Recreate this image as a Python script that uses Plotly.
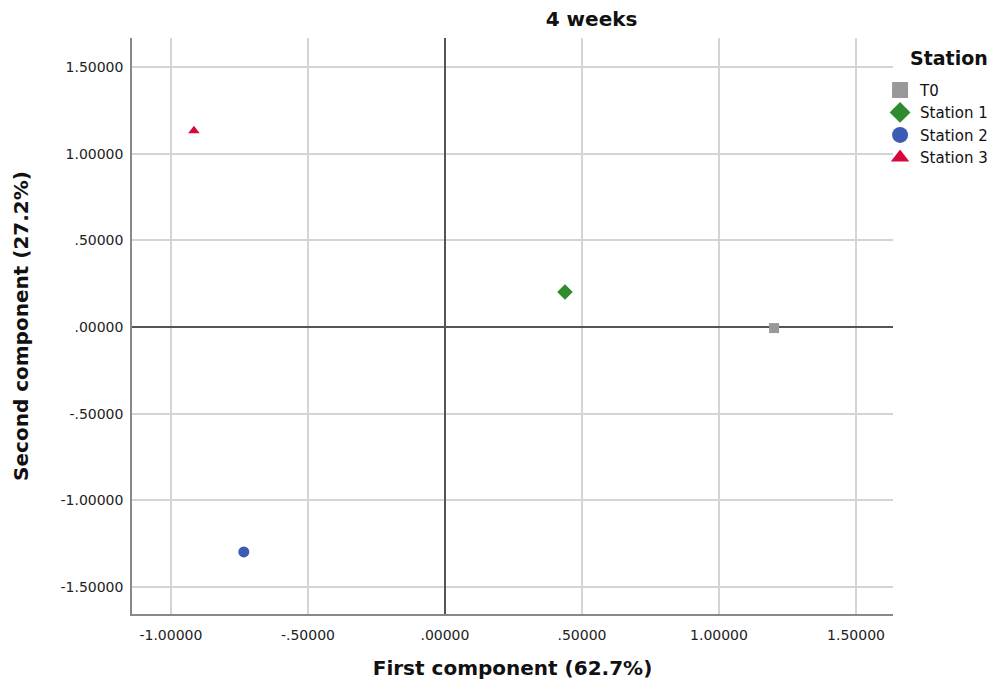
import plotly.graph_objects as go

stations = ["T0", "Station 1", "Station 2", "Station 3"]
pc1 = [1.201, 0.438, -0.734, -0.916]
pc2 = [-0.006, 0.202, -1.298, 1.133]
symbols = ["square", "diamond", "circle", "triangle-up"]
colors = ["#9a9898", "#2e8b2e", "#3b5bb5", "#d6083b"]
sizes = [10, 12, 11, 10]

tick_vals = [-1.5, -1.0, -0.5, 0.0, 0.5, 1.0, 1.5]
tick_text = ["-1.50000", "-1.00000", "-.50000", ".00000", ".50000", "1.00000", "1.50000"]

font = "DejaVu Sans"
fig = go.Figure()
for i, s in enumerate(stations):
    fig.add_trace(go.Scatter(
        x=[pc1[i]], y=[pc2[i]], mode="markers", showlegend=False,
        marker=dict(symbol=symbols[i], color=colors[i], size=sizes[i], line=dict(width=0)),
    ))
for i, s in enumerate(stations):
    fig.add_trace(go.Scatter(
        x=[None], y=[None], mode="markers", name=s,
        marker=dict(symbol=symbols[i], color=colors[i], size=18, line=dict(width=0)),
    ))

axis_common = dict(
    showgrid=True, gridcolor="#d4d4d4", gridwidth=1.5,
    zeroline=True, zerolinecolor="#555555", zerolinewidth=1.5,
    showline=True, linecolor="#888888", linewidth=1.5,
    tickfont=dict(family=font, size=14, color="#222222"),
    tickvals=tick_vals, ticktext=tick_text, ticks="",
)
fig.update_layout(
    width=1001, height=688,
    margin=dict(l=132, r=108, t=38, b=74, autoexpand=False),
    paper_bgcolor="white", plot_bgcolor="white",
    title=dict(text="<b>4 weeks</b>", x=0.591, xref="container", xanchor="center",
               y=1 - 19 / 688, yref="container", yanchor="middle",
               font=dict(family=font, size=20, color="#111111")),
    xaxis=dict(range=[-1.142, 1.635], ticklabelstandoff=7,
               title=dict(text="<b>First component (62.7%)</b>", standoff=19,
                          font=dict(family=font, size=20, color="#111111")),
               **axis_common),
    yaxis=dict(range=[-1.656, 1.668], ticklabelstandoff=4,
               title=dict(text="<b>Second component (27.2%)</b>", standoff=26,
                          font=dict(family=font, size=20, color="#111111")),
               **axis_common),
    legend=dict(x=0.983, y=0.938, xanchor="left", yanchor="top",
                font=dict(family=font, size=15, color="#111111"),
                itemsizing="trace", tracegroupgap=0, itemwidth=30,
                bgcolor="rgba(0,0,0,0)"),
    annotations=[dict(text="<b>Station</b>", x=1.0197, y=0.965, xref="paper", yref="paper",
                      xanchor="left", yanchor="middle", showarrow=False,
                      font=dict(family=font, size=19, color="#111111"))],
)
fig.write_html("out.html")
